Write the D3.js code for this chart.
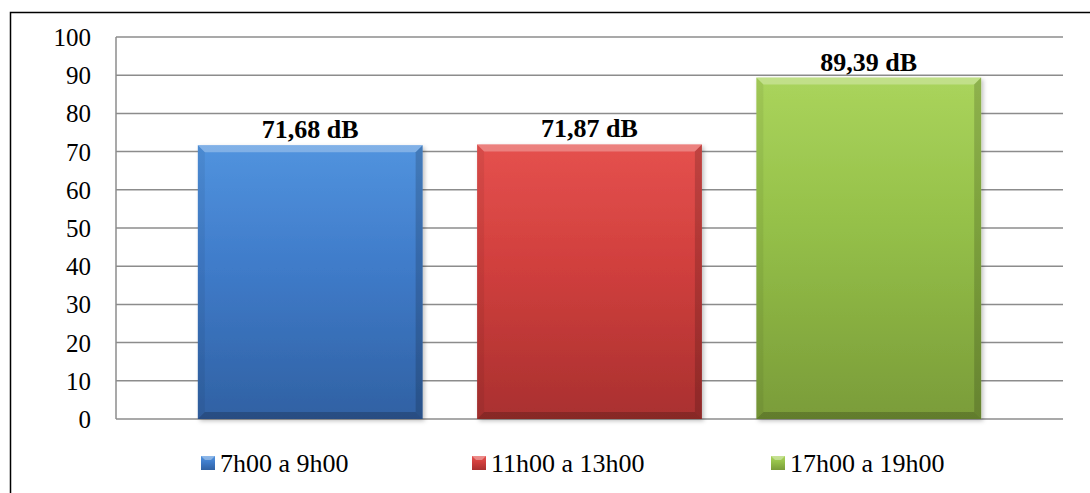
<!DOCTYPE html>
<html>
<head>
<meta charset="utf-8">
<script src="https://cdn.jsdelivr.net/npm/d3@7"></script>
<style>
  html, body { margin: 0; padding: 0; background: #fff; }
  svg { display: block; }
</style>
</head>
<body>
<svg id="chart" width="1090" height="493"></svg>
<script>
// Noise level by time of day
const categories = ["7h00 a 9h00", "11h00 a 13h00", "17h00 a 19h00"];
const values = [71.68, 71.87, 89.39];
const valueLabels = ["71,68 dB", "71,87 dB", "89,39 dB"];
const yTicks = [0, 10, 20, 30, 40, 50, 60, 70, 80, 90, 100];

const palette = [
  { top: "#5193de", mid: "#3f7bc9", bottom: "#3061a3" },
  { top: "#e5514e", mid: "#d03f3d", bottom: "#a9302f" },
  { top: "#aad45c", mid: "#94bf48", bottom: "#7a9c39" }
];

const FONT = "Tinos, 'Liberation Serif', 'Noto Serif', 'DejaVu Serif', 'Times New Roman', serif";

const svg = d3.select("#chart");
const W = 1090, H = 493;
const plot = { left: 116, right: 1063, top: 37, bottom: 419 };

// Outer frame (only top and left edges fall inside the view)
svg.append("rect")
  .attr("x", 10.5).attr("y", 12.5)
  .attr("width", W + 20).attr("height", H + 20)
  .attr("fill", "none").attr("stroke", "#000").attr("stroke-width", 1.5);

const x = d3.scaleBand()
  .domain(categories)
  .range([plot.left, plot.right])
  .paddingInner(0.195)
  .paddingOuter(0.293);

const y = d3.scaleLinear().domain([0, 100]).range([plot.bottom, plot.top]);

// Gradients for the bar faces
const defs = svg.append("defs");
palette.forEach((c, i) => {
  const g = defs.append("linearGradient")
    .attr("id", "grad" + i).attr("x1", 0).attr("y1", 0).attr("x2", 0).attr("y2", 1);
  g.append("stop").attr("offset", "0%").attr("stop-color", c.top);
  g.append("stop").attr("offset", "45%").attr("stop-color", c.mid);
  g.append("stop").attr("offset", "100%").attr("stop-color", c.bottom);
});
const shadow = defs.append("filter").attr("id", "shadow")
  .attr("x", "-10%").attr("y", "-10%").attr("width", "120%").attr("height", "120%");
shadow.append("feDropShadow").attr("dx", 2).attr("dy", 2).attr("stdDeviation", 2)
  .attr("flood-color", "#000").attr("flood-opacity", 0.25);

// Gridlines
const gridG = svg.append("g");
gridG.selectAll("line.grid")
  .data(yTicks)
  .join("line")
  .attr("class", "grid")
  .attr("x1", plot.left).attr("x2", plot.right)
  .attr("y1", d => y(d)).attr("y2", d => y(d))
  .attr("stroke", "#8c8c8c").attr("stroke-width", 1.5);
// Left edge of plot area
gridG.append("line")
  .attr("x1", plot.left).attr("x2", plot.left)
  .attr("y1", plot.top).attr("y2", plot.bottom)
  .attr("stroke", "#8c8c8c").attr("stroke-width", 1.5);

// Y axis labels
const yAxis = d3.axisLeft(y).tickValues(yTicks).tickSize(0).tickPadding(0);
const axisG = svg.append("g")
  .attr("transform", `translate(${plot.left - 25},0)`)
  .call(yAxis)
  .attr("font-family", null).attr("font-size", null);
axisG.select(".domain").remove();
axisG.selectAll("text")
  .style("font-family", FONT)
  .style("font-size", "25px")
  .attr("fill", "#000")
  .attr("dy", "0.34em");

// Bars with bevel
const bevel = 7;
const bars = svg.append("g");
categories.forEach((cat, i) => {
  const x0 = x(cat), w = x.bandwidth();
  const y0 = y(values[i]), y1 = y(0);
  const g = bars.append("g");
  g.append("rect")
    .attr("x", x0).attr("y", y0).attr("width", w).attr("height", y1 - y0)
    .attr("fill", `url(#grad${i})`).attr("filter", "url(#shadow)");
  const x1 = x0 + w;
  // top bevel (light)
  g.append("polygon")
    .attr("points", [[x0, y0], [x1, y0], [x1 - bevel, y0 + bevel], [x0 + bevel, y0 + bevel]].join(" "))
    .attr("fill", "#fff").attr("opacity", 0.28);
  // left bevel
  g.append("polygon")
    .attr("points", [[x0, y0], [x0 + bevel, y0 + bevel], [x0 + bevel, y1 - bevel], [x0, y1]].join(" "))
    .attr("fill", "#000").attr("opacity", 0.06);
  // right bevel
  g.append("polygon")
    .attr("points", [[x1, y0], [x1, y1], [x1 - bevel, y1 - bevel], [x1 - bevel, y0 + bevel]].join(" "))
    .attr("fill", "#000").attr("opacity", 0.16);
  // bottom bevel
  g.append("polygon")
    .attr("points", [[x0, y1], [x1, y1], [x1 - bevel, y1 - bevel], [x0 + bevel, y1 - bevel]].join(" "))
    .attr("fill", "#000").attr("opacity", 0.2);
});

// Value labels
svg.append("g").selectAll("text")
  .data(categories)
  .join("text")
  .attr("x", d => x(d) + x.bandwidth() / 2)
  .attr("y", (d, i) => y(values[i]) - 7)
  .attr("text-anchor", "middle")
  .style("font-family", FONT)
  .style("font-size", "26px")
  .style("font-weight", "bold")
  .attr("fill", "#000")
  .text((d, i) => valueLabels[i]);

// Legend
const legendX = [201, 472, 771];
const legendY = 463;
const leg = svg.append("g");
categories.forEach((cat, i) => {
  const g = leg.append("g").attr("transform", `translate(${legendX[i]},${legendY})`);
  g.append("rect")
    .attr("x", 0).attr("y", -7).attr("width", 14).attr("height", 14)
    .attr("fill", `url(#grad${i})`);
  g.append("polygon")
    .attr("points", "0,-7 14,-7 10,-3 4,-3")
    .attr("fill", "#fff").attr("opacity", 0.35);
  g.append("text")
    .attr("x", 19).attr("y", 0).attr("dy", "0.34em")
    .style("font-family", FONT)
    .style("font-size", "26px")
    .attr("fill", "#000")
    .text(cat);
});
</script>
</body>
</html>
